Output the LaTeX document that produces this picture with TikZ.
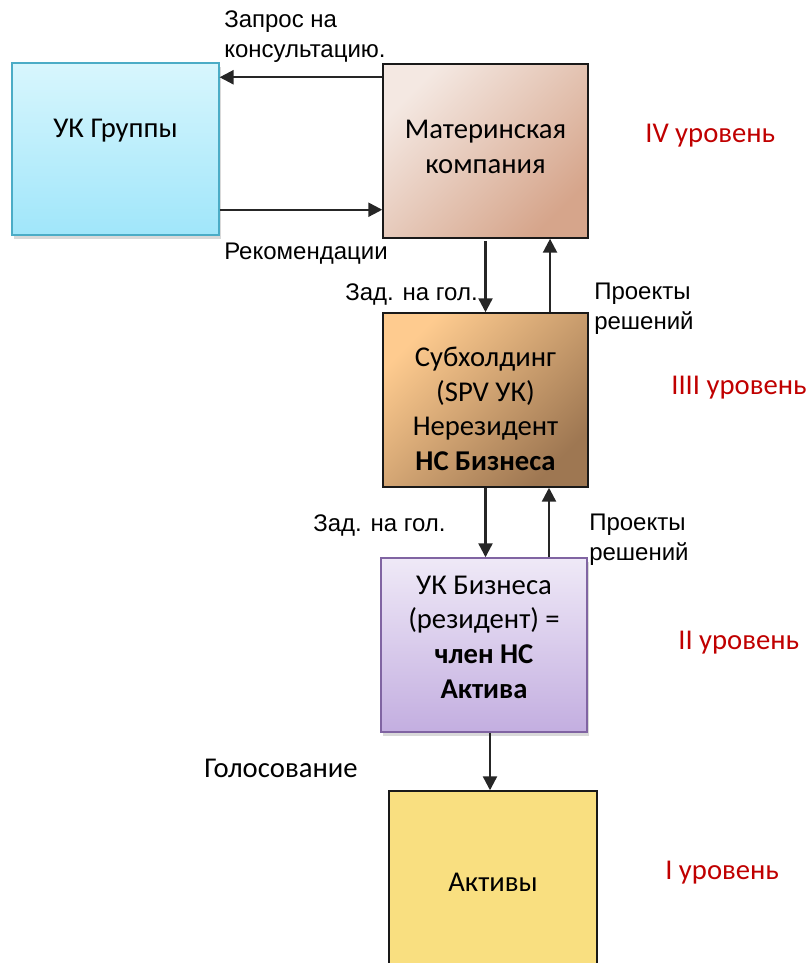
\documentclass[tikz,border=0pt]{standalone}
\usepackage{fontspec}
\setmainfont{Carlito}
\newfontfamily\arialfont{Liberation Sans}
\usepackage[rgb]{xcolor}
\usepackage{tikz}
\usetikzlibrary{arrows.meta,shadows}

\definecolor{grptop}{HTML}{D8F6FD}
\definecolor{grpbot}{HTML}{A0E6FA}
\definecolor{grpline}{HTML}{4BACC6}
\definecolor{matlight}{HTML}{F4E8E2}
\definecolor{matdark}{HTML}{D6A58B}
\definecolor{sublight}{HTML}{FECB8F}
\definecolor{subdark}{HTML}{9E7752}
\definecolor{ukbtop}{HTML}{EFE9F7}
\definecolor{ukbbot}{HTML}{C3AEE0}
\definecolor{ukbline}{HTML}{8064A2}
\definecolor{aktfill}{HTML}{F9DF80}
\definecolor{lvlred}{HTML}{C00000}

\begin{document}
\begin{tikzpicture}[x=0.75pt, y=-0.75pt,
  box/.style={rectangle, draw=black!90, line width=1.1pt, inner sep=0pt},
  arr/.style={draw=black!85, line width=1.8pt, -{Triangle[length=10.5pt,width=10.5pt]}},
  lbl/.style={font=\arialfont\fontsize{18}{22.5}\selectfont, align=left, inner sep=0pt},
  txt/.style={font=\fontsize{21.5}{26}\selectfont, inner sep=0pt, align=center},
  lvl/.style={txt, text=lvlred}]

\useasboundingbox (0,0) rectangle (811,963);


% Group level pair
\node[box, draw=grpline, top color=grptop, bottom color=grpbot,
  minimum width=155pt, minimum height=129pt,
  drop shadow={shadow xshift=1.5pt, shadow yshift=-3pt, opacity=0.3}] (grp) at (115.5,149) {};
\node[txt] (grptxt) at (115.5,131) {УК Группы};

\node[box, top color=matlight, bottom color=matdark, shading angle=45,
  minimum width=153.75pt, minimum height=130.5pt] (mat) at (485.5,151) {};
\node[txt] (mattxt) at (485.5,147) {Материнская\\компания};

\coordinate (reqa) at ([yshift=-10.5pt]mat.north west);
\coordinate (reca) at ([yshift=19.5pt]grp.south east);
\draw[arr] (reqa) -- (reqa -| grp.east);
\draw[arr] (reca) -- (reca -| mat.west);

\path
(224,37) node[lbl, anchor=west] (reqlbl) {Запрос на\\консультацию.}
(224,254) node[lbl, anchor=west] (reclbl) {Рекомендации};


% Subholding
\node[box, top color=sublight, bottom color=subdark, shading angle=45,
  minimum width=153.75pt, minimum height=130.5pt] (sub) at (485.5,400) {};
\node[txt] (subtxt) at (485.5,409) {Субхолдинг\\(SPV УК)\\Нерезидент\\\textbf{НС Бизнеса}};

\coordinate (upa) at ([xshift=48.4pt]sub.north);
\draw[arr, shorten <=2pt] (mat.south) -- (sub.north);
\draw[arr] (upa) -- (upa |- mat.south);

\path
(478,295) node[lbl, anchor=east] (taska) {Зад. на гол.}
(594,309) node[lbl, anchor=west] (proja) {Проекты\\решений};


% Business management company
\node[box, draw=ukbline, top color=ukbtop, bottom color=ukbbot,
  minimum width=154.5pt, minimum height=130.5pt,
  drop shadow={shadow xshift=1.5pt, shadow yshift=-3pt, opacity=0.3}] (ukb) at (484,645) {};
\node[txt] (ukbtxt) at (484,637) {УК Бизнеса\\(резидент) =\\\textbf{член НС}\\\textbf{Актива}};

\coordinate (upb) at ([xshift=48.75pt]ukb.north);
\draw[arr] (sub.south) -- (sub.south |- ukb.north);
\draw[arr] (upb) -- (upb |- sub.south);

\path
(313,526) node[lbl, anchor=west] (taskb) {Зад. на гол.}
(589,540) node[lbl, anchor=west] (projb) {Проекты\\решений};


% Assets
\node[box, fill=aktfill, minimum width=156pt, minimum height=135pt] (akt) at (493,881) {};
\node[txt] (akttxt) at (493,882) {Активы};

\coordinate (vote) at ([xshift=4.5pt]ukb.south);
\draw[arr] (vote) -- (vote |- akt.north);

\node[txt, anchor=west] (votelbl) at (204,768) {Голосование};


% Levels
\path
(645,136) node[lvl, anchor=west] (lvlfour) {IV уровень}
(671,388) node[lvl, anchor=west] (lvlthree) {IIII уровень}
(678,643) node[lvl, anchor=west] (lvltwo) {II уровень}
(665,873) node[lvl, anchor=west] (lvlone) {I уровень};

\end{tikzpicture}
\end{document}
